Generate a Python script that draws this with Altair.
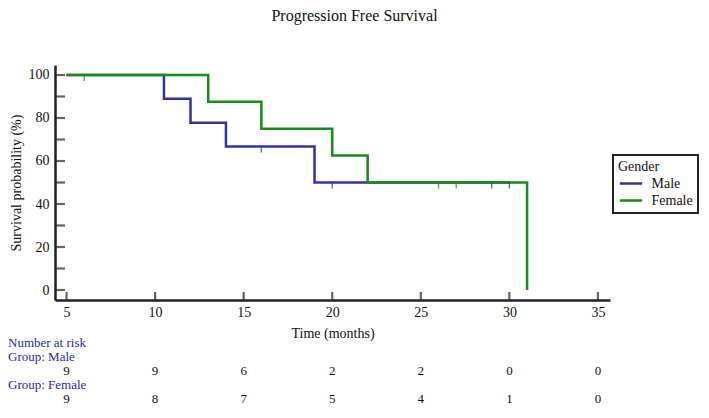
import altair as alt
import pandas as pd

# Kaplan-Meier step points
male_time = [5, 10.5, 12, 14, 19, 30]
male_surv = [100, 88.9, 77.8, 66.7, 50, 50]
female_time = [5, 13, 16, 20, 22, 31]
female_surv = [100, 87.5, 75, 62.5, 50, 0]

# censor marks
male_cens_time = [16, 20, 29, 30]
male_cens_surv = [66.7, 50, 50, 50]
female_cens_time = [6, 26, 27]
female_cens_surv = [100, 50, 50]

# number at risk
risk_times = [5, 10, 15, 20, 25, 30, 35]
risk_male = [9, 9, 6, 2, 2, 0, 0]
risk_female = [9, 8, 7, 5, 4, 1, 0]

x_ticks = [5, 10, 15, 20, 25, 30, 35]
y_ticks = [0, 10, 20, 30, 40, 50, 60, 70, 80, 90, 100]
y_labels = [0, 20, 40, 60, 80, 100]

groups = ["Male", "Female"]
colors = ["#3232a0", "#178c17"]
FONT = "Liberation Serif"
W, H = 555, 235

lines = pd.DataFrame({
    "t": male_time + female_time,
    "s": male_surv + female_surv,
    "Gender": ["Male"] * len(male_time) + ["Female"] * len(female_time),
    "o": [0] * len(male_time) + [1] * len(female_time),
})
cens = pd.DataFrame({
    "t": male_cens_time + female_cens_time,
    "s": male_cens_surv + female_cens_surv,
    "Gender": ["Male"] * len(male_cens_time) + ["Female"] * len(female_cens_time),
})

xscale = alt.Scale(domain=[4.35, 35.68], nice=False, zero=False)
yscale = alt.Scale(domain=[-4.65, 104.65], nice=False, zero=False)
cscale = alt.Scale(domain=groups, range=colors)

xaxis = alt.Axis(values=x_ticks, ticks=False, tickSize=0, grid=False, domainColor="#222",
                 domainWidth=2.5, labelFont=FONT, labelFontSize=14, labelColor="#111",
                 labelPadding=5, title="Time (months)", titleFont=FONT, titleFontSize=14,
                 titleFontWeight="normal", titleColor="#111", titlePadding=7, labelFlush=False)
yaxis = alt.Axis(values=y_labels, ticks=False, tickSize=0, grid=False, domainColor="#222",
                 domainWidth=2.5, labelFont=FONT, labelFontSize=14, labelColor="#111",
                 labelPadding=6, title="Survival probability (%)", titleFont=FONT,
                 titleFontSize=14, titleFontWeight="normal", titleColor="#111",
                 titlePadding=5, labelFlush=False)

line_layer = alt.Chart(lines).mark_line(interpolate="step-after", strokeWidth=2.5).encode(
    x=alt.X("t:Q", scale=xscale, axis=xaxis),
    y=alt.Y("s:Q", scale=yscale, axis=yaxis),
    color=alt.Color("Gender:N", scale=cscale, legend=alt.Legend(
        title="Gender", orient="none", legendX=558, legendY=90,
        symbolType="M-1.4,0H1.4", symbolSize=256, symbolStrokeWidth=2.5, symbolOffset=3.5,
        titleFont=FONT, titleFontSize=14, titleFontWeight="normal", titleColor="#111",
        labelFont=FONT, labelFontSize=14, labelColor="#111", labelOffset=11,
        labelExpr="datum.label + '\u00a0\u00a0\u00a0'",
        strokeColor="#222", padding=5, rowPadding=0, titlePadding=0)),
    detail="Gender:N",
    order="o:Q",
)

cens_layer = alt.Chart(cens).mark_tick(orient="vertical", size=6, thickness=1.5, yOffset=3).encode(
    x=alt.X("t:Q", scale=xscale),
    y=alt.Y("s:Q", scale=yscale),
    color=alt.Color("Gender:N", scale=cscale, legend=None),
)

xt = pd.DataFrame({"v": x_ticks})
xtick_layer = alt.Chart(xt).mark_tick(orient="vertical", size=8, thickness=2.2, color="#222").encode(
    x=alt.X("v:Q", scale=xscale), y=alt.value(H - 4))
yt = pd.DataFrame({"v": y_ticks})
ytick_layer = alt.Chart(yt).mark_tick(orient="horizontal", size=10, thickness=2.2, color="#222").encode(
    y=alt.Y("v:Q", scale=yscale), x=alt.value(5))

rm = pd.DataFrame({"t": risk_times, "n": risk_male})
rf = pd.DataFrame({"t": risk_times, "n": risk_female})
tstyle = dict(font=FONT, fontSize=13, baseline="middle", align="center", color="#111")
rm_layer = alt.Chart(rm).mark_text(**tstyle).encode(
    x=alt.X("t:Q", scale=xscale), y=alt.value(306), text="n:Q")
rf_layer = alt.Chart(rf).mark_text(**tstyle).encode(
    x=alt.X("t:Q", scale=xscale), y=alt.value(334), text="n:Q")

hdr = pd.DataFrame({"label": ["Number at risk", "Group: Male", "Group: Female"],
                    "row": [278, 292, 320]})
hdr_layer = alt.Chart(hdr).mark_text(font=FONT, fontSize=13, baseline="middle", align="left",
                                     color="#2a2aa0").encode(
    x=alt.value(-47), y=alt.Y("row:Q", scale=None), text="label:N")

chart = alt.layer(
    line_layer, cens_layer, xtick_layer, ytick_layer, rm_layer, rf_layer, hdr_layer
).properties(
    width=W, height=H,
    title=alt.TitleParams("Progression Free Survival", font=FONT, fontSize=16,
                          fontWeight="normal", color="#111", anchor="middle", dx=22, offset=41),
    autosize=alt.AutoSizeParams(type="none"),
    padding={"left": 47, "top": 57, "right": 91, "bottom": 106},
).configure_view(stroke=None).configure_legend(strokeWidth=2)

chart.save("out.html", embed_options={"renderer": "svg", "actions": False})
